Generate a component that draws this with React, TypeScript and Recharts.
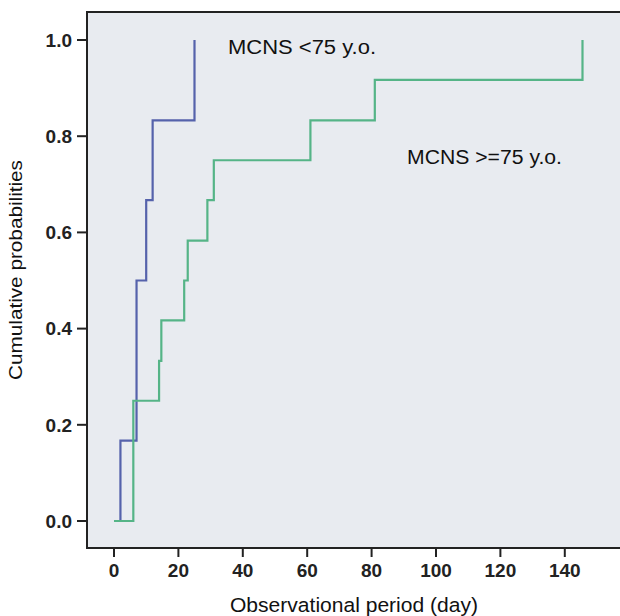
import React from 'react';
import { LineChart, Line, XAxis, YAxis, ReferenceArea } from 'recharts';

// cumulative probability steps
const youngDays = [0, 2, 7, 10, 12, 25];
const youngProb = [0, 0.167, 0.5, 0.667, 0.833, 1.0];

const oldDays = [0, 6, 14, 14.7, 21.8, 22.9, 29, 31, 61, 81, 145.5];
const oldProb = [0, 0.25, 0.333, 0.417, 0.5, 0.583, 0.667, 0.75, 0.833, 0.917, 1.0];

const xTicks = [0, 20, 40, 60, 80, 100, 120, 140];
const yTicks = [0, 0.2, 0.4, 0.6, 0.8, 1.0];

const X_MIN = -8.385;
const X_MAX = 175.78;
const Y_MIN = -0.0561;
const Y_MAX = 1.0582;

const youngData = youngDays.map((d, i) => ({ day: d, p: youngProb[i] }));
const oldData = oldDays.map((d, i) => ({ day: d, p: oldProb[i] }));

const FONT = 'Liberation Sans, Arial, sans-serif';
const INK = '#222';

export default function App() {
  return (
    <div
      style={{
        position: 'absolute',
        left: 0,
        top: 0,
        width: 620,
        height: 616,
        overflow: 'hidden',
        background: '#fff',
      }}
    >
      <LineChart
        width={680}
        height={616}
        margin={{ top: 12, right: 0, left: 0, bottom: 0 }}
      >
        <ReferenceArea
          x1={X_MIN}
          x2={X_MAX}
          y1={Y_MIN}
          y2={Y_MAX}
          fill="#e8ebf0"
          fillOpacity={1}
          stroke={INK}
          strokeWidth={2}
        />
        <XAxis
          type="number"
          dataKey="day"
          domain={[X_MIN, X_MAX]}
          ticks={xTicks}
          allowDataOverflow
          height={68}
          tickSize={9}
          tickMargin={7}
          axisLine={{ stroke: INK, strokeWidth: 2 }}
          tickLine={{ stroke: INK, strokeWidth: 2 }}
          tick={{ fontSize: 19, fontWeight: 'bold', fill: INK, fontFamily: FONT }}
        />
        <YAxis
          type="number"
          dataKey="p"
          domain={[Y_MIN, Y_MAX]}
          ticks={yTicks}
          allowDataOverflow
          width={87}
          tickSize={10}
          tickMargin={5}
          tickFormatter={(v: number) => v.toFixed(1)}
          axisLine={{ stroke: INK, strokeWidth: 2 }}
          tickLine={{ stroke: INK, strokeWidth: 2 }}
          tick={{ fontSize: 19, fontWeight: 'bold', fill: INK, fontFamily: FONT }}
        />
        <Line
          data={youngData}
          dataKey="p"
          type="stepAfter"
          stroke="#5562ab"
          strokeWidth={2.2}
          dot={false}
          isAnimationActive={false}
        />
        <Line
          data={oldData}
          dataKey="p"
          type="stepAfter"
          stroke="#55b487"
          strokeWidth={2.2}
          dot={false}
          isAnimationActive={false}
        />
      </LineChart>
      <svg
        width={620}
        height={616}
        style={{ position: 'absolute', left: 0, top: 0, pointerEvents: 'none' }}
        fontFamily={FONT}
        fill="#111"
      >
        <text x={228} y={54} fontSize={20} textLength={148} lengthAdjust="spacingAndGlyphs">
          MCNS &lt;75 y.o.
        </text>
        <text x={407} y={164} fontSize={20} textLength={155} lengthAdjust="spacingAndGlyphs">
          MCNS &gt;=75 y.o.
        </text>
        <text x={230} y={612} fontSize={20.5} textLength={248} lengthAdjust="spacingAndGlyphs">
          Observational period (day)
        </text>
        <text
          transform="translate(21.5, 380) rotate(-90)"
          x={0}
          y={0}
          fontSize={17.5}
          textLength={220}
          lengthAdjust="spacingAndGlyphs"
        >
          Cumulative probabilities
        </text>
      </svg>
    </div>
  );
}
